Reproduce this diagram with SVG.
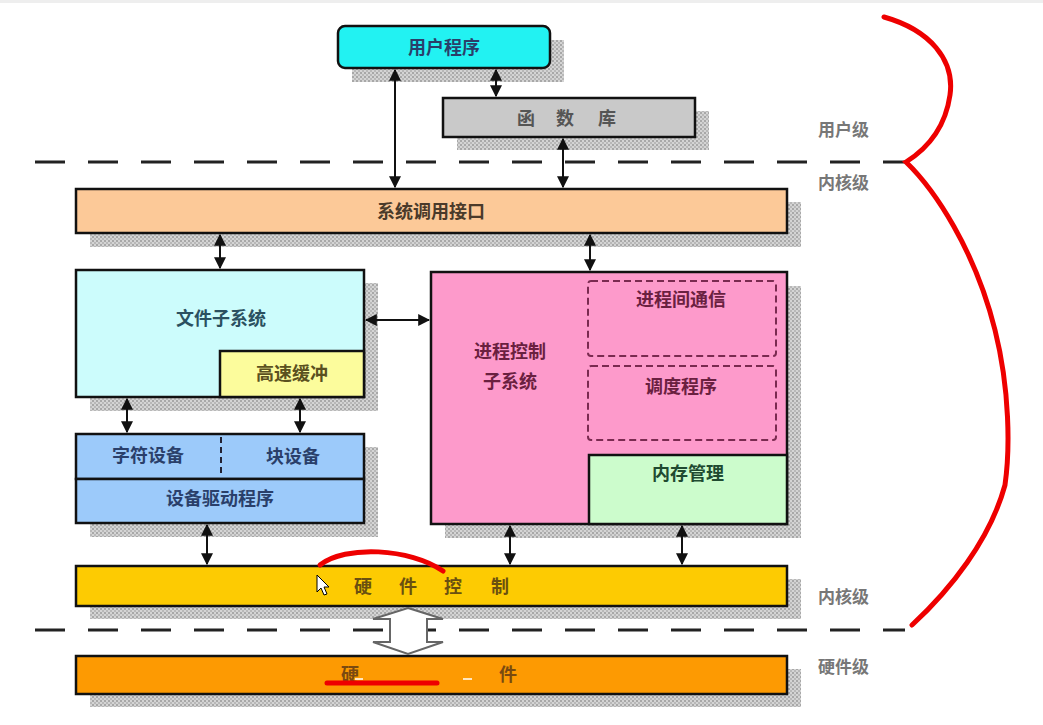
<svg xmlns="http://www.w3.org/2000/svg" width="1043" height="725" viewBox="0 0 1043 725">
<style>
.box{stroke:#111;stroke-width:2.5}
.sh{fill:url(#chk)}
.t{font-family:"Noto Sans CJK SC","Noto Sans",sans-serif;font-size:18px;font-weight:bold;text-anchor:middle;dominant-baseline:central}
.lbl{font-family:"Noto Sans CJK SC","Noto Sans",sans-serif;font-size:17px;font-weight:bold;fill:#777;dominant-baseline:central}
.con{stroke:#111;stroke-width:2;fill:none;marker-start:url(#ah);marker-end:url(#ah)}
.dash{stroke:#222;stroke-width:3;stroke-dasharray:30 23}
.idash{fill:none;stroke:#7a2a50;stroke-width:2;stroke-dasharray:7 4}
.red{fill:none;stroke:#e00;stroke-width:5;stroke-linecap:round}
</style>
<defs>
<pattern id="chk" width="4" height="4" patternUnits="userSpaceOnUse">
<rect width="4" height="4" fill="#d4d4d4"/>
<rect width="2" height="2" fill="#a8a8a8"/>
<rect x="2" y="2" width="2" height="2" fill="#b8b8b8"/>
</pattern>
<marker id="ah" viewBox="0 0 10 10" refX="9" refY="5" markerWidth="6" markerHeight="6" orient="auto-start-reverse" markerUnits="strokeWidth">
<path d="M0,0 L10,5 L0,10 z" fill="#111"/>
</marker>
</defs>
<rect width="1043" height="725" fill="#fff"/>
<rect x="0" y="0" width="1043" height="3" fill="#eee"/>

<!-- level dashed lines -->
<line class="dash" x1="35" y1="162" x2="905" y2="162"/>
<line class="dash" x1="35" y1="630" x2="905" y2="630"/>

<!-- shadows -->
<g id="shadows">
<rect class="sh" x="352" y="40" width="212" height="42"/>
<rect class="sh" x="457" y="111" width="252" height="39"/>
<rect class="sh" x="90" y="202" width="711" height="45"/>
<rect class="sh" x="90" y="283" width="288" height="128"/>
<rect class="sh" x="445" y="286" width="356" height="252"/>
<rect class="sh" x="90" y="447" width="288" height="90"/>
<rect class="sh" x="90" y="579" width="711" height="40"/>
<rect class="sh" x="90" y="669" width="711" height="38"/>
</g>

<g id="user-program">
<rect class="box" x="338" y="26" width="212" height="42" rx="7" fill="#22f2f2"/>
<text class="t" x="444" y="46" fill="#2a3f6a">用户程序</text>
</g>
<g id="library">
<rect class="box" x="443" y="98" width="252" height="39" fill="#c9c9c9"/>
<text class="t" x="526" y="117" fill="#555">函</text>
<text class="t" x="565" y="117" fill="#555">数</text>
<text class="t" x="607" y="117" fill="#555">库</text>
</g>
<g id="syscall">
<rect class="box" x="76" y="189" width="711" height="44" fill="#fcc998"/>
<text class="t" x="431" y="210" fill="#4a3a2a">系统调用接口</text>
</g>
<g id="filesys">
<rect class="box" x="76" y="270" width="288" height="127" fill="#ccfcfc"/>
<text class="t" x="221" y="317" fill="#2a5060">文件子系统</text>
</g>
<g id="cache">
<rect class="box" x="220" y="351" width="144" height="46" fill="#fcfc9c"/>
<text class="t" x="292" y="372" fill="#5a5020">高速缓冲</text>
</g>
<g id="proc">
<rect class="box" x="431" y="272" width="356" height="252" fill="#fd9acb"/>
<text class="t" x="510" y="350" fill="#6a2040">进程控制</text>
<text class="t" x="510" y="380" fill="#6a2040">子系统</text>
</g>
<g id="ipc">
<rect class="idash" x="588" y="281" width="188" height="75" rx="3"/>
<text class="t" x="681" y="298" fill="#6a2040">进程间通信</text>
</g>
<g id="sched">
<rect class="idash" x="588" y="366" width="188" height="74" rx="3"/>
<text class="t" x="681" y="385" fill="#6a2040">调度程序</text>
</g>
<g id="mem">
<rect class="box" x="589" y="455" width="198" height="69" fill="#ccfccc"/>
<text class="t" x="688" y="472" fill="#204a30">内存管理</text>
</g>
<g id="devices">
<rect class="box" x="76" y="434" width="288" height="45" fill="#9ccafa"/>
<line x1="221" y1="437" x2="221" y2="476" stroke="#223" stroke-width="2" stroke-dasharray="6 4"/>
<text class="t" x="148" y="454" fill="#2a3f6a">字符设备</text>
<text class="t" x="293" y="455" fill="#2a3f6a">块设备</text>
</g>
<g id="driver">
<rect class="box" x="76" y="479" width="288" height="44" fill="#9ccafa"/>
<text class="t" x="220" y="497" fill="#2a3f6a">设备驱动程序</text>
</g>
<g id="hwctl">
<rect class="box" x="76" y="566" width="711" height="40" fill="#fdcb02"/>
<text class="t" x="363" y="585" fill="#6a5010">硬</text>
<text class="t" x="408" y="585" fill="#6a5010">件</text>
<text class="t" x="453" y="585" fill="#6a5010">控</text>
<text class="t" x="500" y="585" fill="#6a5010">制</text>
</g>
<g id="hardware">
<rect class="box" x="76" y="656" width="711" height="38" fill="#fd9a02"/>
<text class="t" x="350" y="673" fill="#7a4a10">硬</text>
<text class="t" x="508" y="673" fill="#7a4a10">件</text>
</g>

<g id="levels">
<text class="lbl" x="818" y="128">用户级</text>
<text class="lbl" x="818" y="181">内核级</text>
<text class="lbl" x="818" y="595">内核级</text>
<text class="lbl" x="818" y="665">硬件级</text>
</g>

<g id="connectors">
<line class="con" x1="395" y1="70" x2="395" y2="187"/>
<line class="con" x1="496" y1="70" x2="496" y2="96"/>
<line class="con" x1="563" y1="139" x2="563" y2="187"/>
<line class="con" x1="220" y1="235" x2="220" y2="268"/>
<line class="con" x1="590" y1="235" x2="590" y2="270"/>
<line class="con" x1="366" y1="320" x2="429" y2="320"/>
<line class="con" x1="127" y1="399" x2="127" y2="432"/>
<line class="con" x1="300" y1="399" x2="300" y2="432"/>
<line class="con" x1="207" y1="525" x2="207" y2="564"/>
<line class="con" x1="510" y1="526" x2="510" y2="564"/>
<line class="con" x1="682" y1="526" x2="682" y2="564"/>
<path d="M408,608 L443,619 L427,619 L427,642 L443,642 L408,654 L373,642 L390,642 L390,619 L373,619 Z" fill="#fff" stroke="#666" stroke-width="2"/>
</g>

<g id="annotations">
<path class="red" d="M884,17 C930,30 955,60 950,95 C945,130 925,150 906,162 C935,190 975,250 995,330 C1010,390 1010,450 1005,485 C990,540 950,590 912,625"/>
<path class="red" d="M320,565 C345,545 410,548 443,571"/>
<line class="red" x1="327" y1="683" x2="437" y2="683"/>
<line x1="355" y1="679" x2="363" y2="679" stroke="#fff" stroke-width="1.5"/>
<line x1="463" y1="679" x2="472" y2="679" stroke="#fff" stroke-width="1.5"/>
<path d="M317,575 L317,592 L321,588 L324,595 L327,594 L324,587 L329,587 Z" fill="#fff" stroke="#000" stroke-width="1"/>
</g>
</svg>
